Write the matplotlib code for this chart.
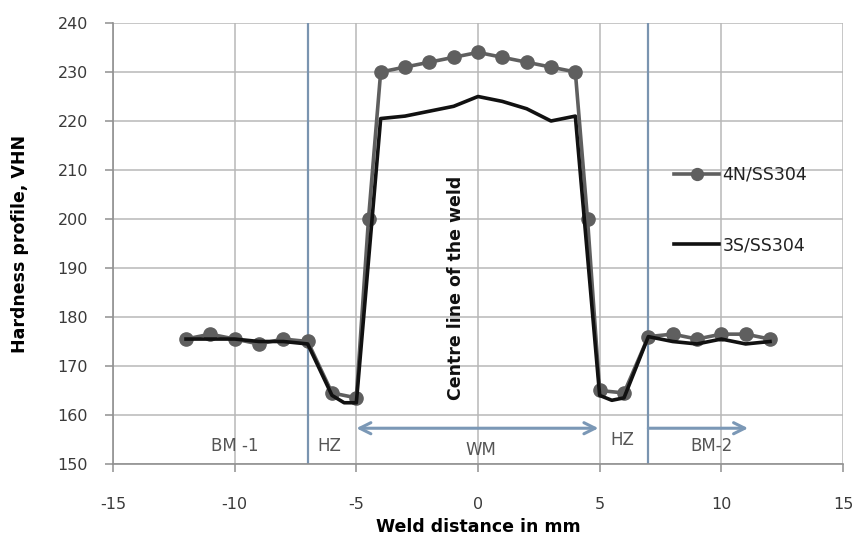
import matplotlib
matplotlib.use("Agg")
import matplotlib.pyplot as plt

# 4N/SS304 measured points (with markers)
x_4n = [-12, -11, -10, -9, -8, -7, -6, -5, -4.5, -4, -3, -2, -1, 0, 1, 2, 3, 4, 4.5, 5, 6, 7, 8, 9, 10, 11, 12]
hv_4n = [175.5, 176.5, 175.5, 174.5, 175.5, 175, 164.5, 163.5, 200, 230, 231, 232, 233, 234, 233, 232, 231, 230,
         200, 165, 164.5, 176, 176.5, 175.5, 176.5, 176.5, 175.5]

# 3S/SS304 profile (line only)
x_3s = [-12, -11, -10, -9, -8, -7, -6, -5.5, -5, -4, -3, -2, -1, 0, 1, 2, 3, 4, 5, 5.5, 6, 7, 8, 9, 10, 11, 12]
hv_3s = [175.5, 175.5, 175.5, 175, 175, 174.5, 164, 162.5, 162.5, 220.5, 221, 222, 223, 225, 224, 222.5, 220, 221,
         164, 163, 163.5, 176, 175, 174.5, 175.5, 174.5, 175]

zone_lines = [-7, 7]
zone_labels = ["BM -1", "HZ", "WM", "HZ", "BM-2"]
zone_label_x = [-10, -6.1, 0.1, 5.95, 9.6]
zone_label_y = [153.6, 153.7, 152.9, 154.9, 153.7]

plt.rcParams["axes.unicode_minus"] = False
plt.rcParams["font.family"] = "DejaVu Sans"

fig = plt.figure(figsize=(8.56, 5.37), dpi=100)
ax = fig.add_axes([113 / 856, 1 - 464 / 537, (843 - 113) / 856, (464 - 23) / 537])

grid_c = "#b8b8b8"
ax.set_xlim(-15, 15)
ax.set_ylim(150, 240)
ax.set_xticks(range(-15, 16, 5))
ax.set_yticks(range(150, 241, 10))
ax.grid(True, color=grid_c, linewidth=1.1)
ax.set_axisbelow(True)
for side in ["top", "right"]:
    ax.spines[side].set_visible(False)
for side in ["left", "bottom"]:
    ax.spines[side].set_color("#909090")
    ax.spines[side].set_linewidth(1.2)
ax.tick_params(axis="both", colors="#909090", labelcolor="#3a3a3a", labelsize=11.5, length=6, width=1.1)
ax.tick_params(axis="x", pad=18)
ax.tick_params(axis="y", pad=12)

# zone boundaries
for xv in zone_lines:
    ax.axvline(xv, color="#7a94b0", linewidth=1.6, zorder=1.5)

ax.plot(x_4n, hv_4n, color="#5f5f5f", linewidth=2.6, marker="o", markersize=9.5,
        markerfacecolor="#5f5f5f", markeredgecolor="#5f5f5f", label="4N/SS304", zorder=3)
ax.plot(x_3s, hv_3s, color="#111111", linewidth=2.6, label="3S/SS304", zorder=4)

# arrows for zones
arrow_c = "#7b98b6"
ax.annotate("", xy=(-5, 157.3), xytext=(4.95, 157.3),
            arrowprops=dict(arrowstyle="<->", color=arrow_c, lw=2.2, shrinkA=0, shrinkB=0,
                            mutation_scale=20))
ax.annotate("", xy=(11.1, 157.3), xytext=(7, 157.3),
            arrowprops=dict(arrowstyle="->", color=arrow_c, lw=2.2, shrinkA=0, shrinkB=0,
                            mutation_scale=20))

for lbl, xv, yv in zip(zone_labels, zone_label_x, zone_label_y):
    ax.text(xv, yv, lbl, ha="center", va="center", fontsize=12, color="#555555")

ax.text(-0.9, 186, "Centre line of the weld", rotation=90, ha="center", va="center",
        fontsize=12.5, fontweight="bold", color="#111111")

ax.set_xlabel("Weld distance in mm", fontsize=12.5, fontweight="bold")
ax.set_ylabel("Hardness profile, VHN", fontsize=12.5, fontweight="bold")
ax.xaxis.set_label_coords(0.5, -0.122)
ax.yaxis.set_label_coords(-0.115, 0.5)

leg = fig.legend(loc="center left", bbox_to_anchor=(674 / 856, 1 - 210 / 537), frameon=False,
                 fontsize=12.5, handlelength=2.6, handletextpad=0.2, labelspacing=3.0,
                 borderpad=0, borderaxespad=0, markerscale=0.9)
for t in leg.get_texts():
    t.set_color("#222222")

fig.savefig("out.png", dpi=100)
